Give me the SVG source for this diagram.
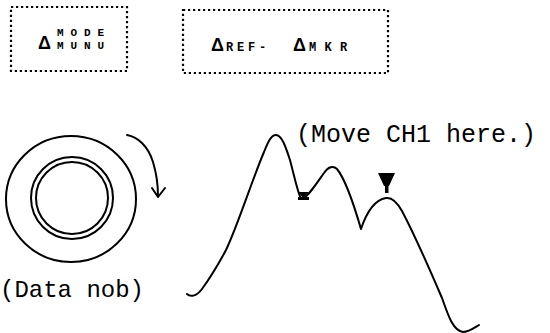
<svg xmlns="http://www.w3.org/2000/svg" width="550" height="333" viewBox="0 0 550 333">
  <style>
    .dot { fill: none; stroke: #000; stroke-width: 2.2; stroke-dasharray: 2.2 2.8; }
    .ln { fill: none; stroke: #000; stroke-width: 2; stroke-linecap: round; stroke-linejoin: round; }
    .mono { font-family: "Liberation Mono", "Courier New", monospace; fill: #000; }
    .small { font-family: "Liberation Mono", monospace; font-weight: bold; font-size: 12px; fill: #000; }
    .stack { font-family: "Liberation Mono", monospace; font-weight: bold; font-size: 11px; fill: #000; }
    .delta { font-family: "Liberation Sans", Arial, sans-serif; font-weight: bold; font-size: 18px; fill: #000; }
  </style>
  <rect width="550" height="333" fill="#fff"/>

  <g id="box-mode-menu">
    <rect class="dot" x="11" y="7" width="116" height="64"/>
    <text class="delta" x="38" y="49">Δ</text>
    <text class="stack" x="57" y="36" letter-spacing="6.9">MODE</text>
    <text class="stack" x="57" y="49" letter-spacing="6.9">MUNU</text>
  </g>

  <g id="box-ref-mkr">
    <rect class="dot" x="183" y="10" width="205" height="63"/>
    <text class="delta" x="211" y="51">Δ</text>
    <text class="small" x="226" y="51" letter-spacing="3.8">REF-</text>
    <text class="delta" x="293" y="51">Δ</text>
    <text class="small" x="309" y="51" letter-spacing="8.3">MKR</text>
  </g>

  <g id="knob">
    <ellipse class="ln" cx="71" cy="199" rx="65" ry="63"/>
    <circle class="ln" cx="72" cy="198" r="41"/>
    <circle class="ln" cx="72" cy="198" r="36"/>
    <text class="mono" x="0" y="297" font-size="24">(Data nob)</text>
  </g>

  <g id="connectors">
    <path class="ln" d="M127,135 C138,137 148,146 153,162 C156,172 158,184 158,196"/>
    <polyline class="ln" points="152,188 158,197 165,188"/>
  </g>

  <g id="waveform">
    <path class="ln" d="M187,294 C190,297 196,297 202,289 C210,278 218,265 226,250 C238,225 252,180 264,152 C268,142 271,135 276,135 C282,135 286,148 290,160 C294,175 297,190 301,199 C307,199 316,184 324,173 C328,167 333,165 337,169 C346,180 354,205 361,229 C366,214 374,200 386,198 C392,197 397,202 402,211 C412,230 430,270 442,298 C448,315 453,331 463,332 C469,332 474,328 479,325"/>
    <polygon points="298,192 309,192 303,198" fill="#000"/>
    <rect x="298" y="197" width="11" height="3" fill="#000"/>
    <polygon points="378,173 395,173 389,186 384,186" fill="#000"/>
    <rect x="385" y="184" width="3.5" height="9" fill="#000"/>
    <text class="mono" x="296" y="142" font-size="25">(Move CH1 here.)</text>
  </g>
</svg>
